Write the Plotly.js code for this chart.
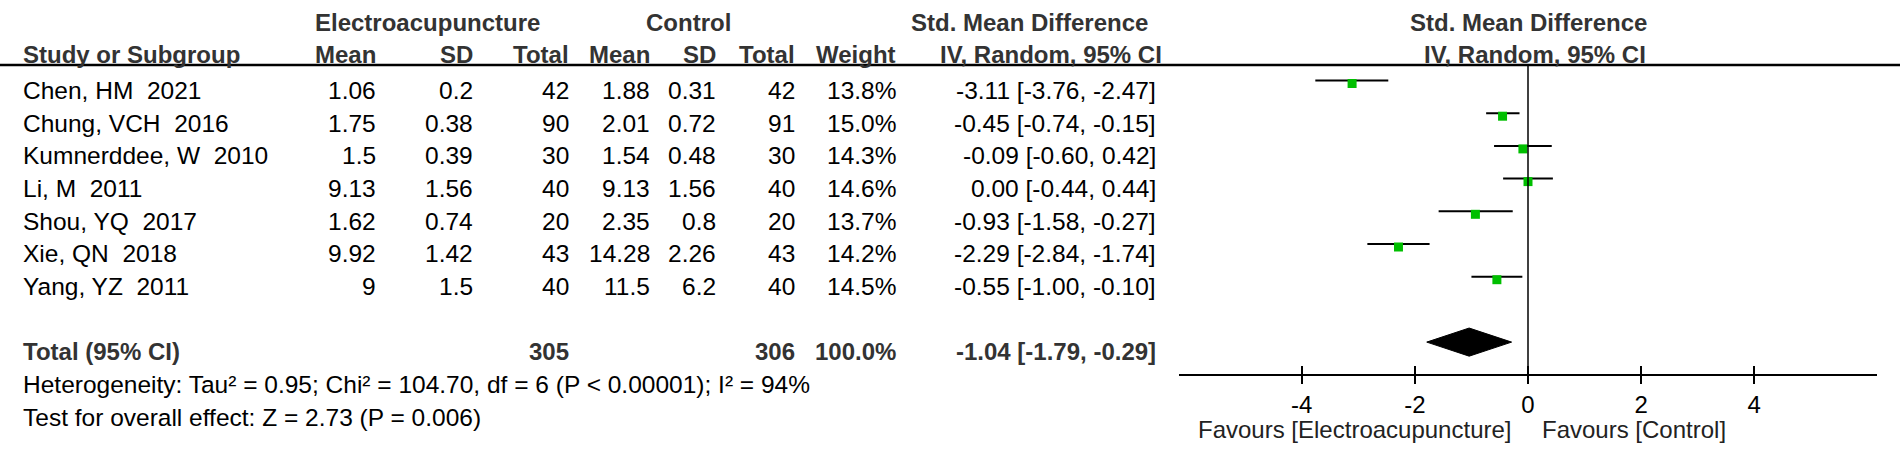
<!DOCTYPE html>
<html>
<head>
<meta charset="utf-8">
<script src="https://cdn.plot.ly/plotly-3.0.1.min.js"></script>
<style>
  html, body { margin: 0; padding: 0; background: #ffffff; }
  #chart { width: 1900px; height: 456px; }
</style>
</head>
<body>
<div id="chart"></div>
<script>
// ---------------- data ----------------
const studies = ["Chen, HM\u00a0 2021", "Chung, VCH\u00a0 2016", "Kumnerddee, W\u00a0 2010", "Li, M\u00a0 2011",
                 "Shou, YQ\u00a0 2017", "Xie, QN\u00a0 2018", "Yang, YZ\u00a0 2011"];
const eaMean  = [1.06, 1.75, 1.5, 9.13, 1.62, 9.92, 9];
const eaSD    = [0.2, 0.38, 0.39, 1.56, 0.74, 1.42, 1.5];
const eaTotal = [42, 90, 30, 40, 20, 43, 40];
const ctMean  = [1.88, 2.01, 1.54, 9.13, 2.35, 14.28, 11.5];
const ctSD    = [0.31, 0.72, 0.48, 1.56, 0.8, 2.26, 6.2];
const ctTotal = [42, 91, 30, 40, 20, 43, 40];
const weights = [13.8, 15.0, 14.3, 14.6, 13.7, 14.2, 14.5];
const smd     = [-3.11, -0.45, -0.09, 0.00, -0.93, -2.29, -0.55];
const ciLow   = [-3.76, -0.74, -0.60, -0.44, -1.58, -2.84, -1.00];
const ciHigh  = [-2.47, -0.15, 0.42, 0.44, -0.27, -1.74, -0.10];

const totalLabel = "Total (95% CI)";
const totalEA = 305, totalCT = 306, totalWeight = 100.0;
const totalSMD = -1.04, totalLow = -1.79, totalHigh = -0.29;

const heterogeneityText = "Heterogeneity: Tau\u00b2 = 0.95; Chi\u00b2 = 104.70, df = 6 (P < 0.00001); I\u00b2 = 94%";
const overallText = "Test for overall effect: Z = 2.73 (P = 0.006)";
const groupHeaders = ["Electroacupuncture", "Control", "Std. Mean Difference", "Std. Mean Difference"];
const colHeaders = ["Study or Subgroup", "Mean", "SD", "Total", "Mean", "SD", "Total", "Weight", "IV, Random, 95% CI", "IV, Random, 95% CI"];
const tickValues = [-4, -2, 0, 2, 4];
const favoursLeft = "Favours [Electroacupuncture]";
const favoursRight = "Favours [Control]";

// ---------------- layout constants ----------------
const W = 1900, H = 456;
const FONT = '"Liberation Sans", Arial, sans-serif';
const FS = 24.5, FSB = 24;
const TXT = "#000000", HEAD = "#333333";
const ROW0 = 80.5, ROWH = 32.7, TEXT_OFF = 9.8;
const PLOT_TOP = 65, PLOT_BOTTOM = 374, PLOT_LEFT = 1179, PLOT_RIGHT = 1877;
const MARKER_DROP = 3;
const XR = 6.17;
const TOTAL_ROW = 8;

const px = x => x / W;
const py = y => 1 - y / H;
const rowY = i => ROW0 + i * ROWH + TEXT_OFF;

function txt(text, x, y, anchor, size, color) {
  return { text: text, x: px(x), y: py(y), xref: "paper", yref: "paper",
           xanchor: anchor, yanchor: "middle", showarrow: false,
           font: { family: FONT, size: size || FS, color: color || TXT } };
}

const ann = [];
// group headers
ann.push(txt("<b>" + groupHeaders[0] + "</b>", 427, 22, "center", FSB, HEAD));
ann.push(txt("<b>" + groupHeaders[1] + "</b>", 688, 22, "center", FSB, HEAD));
ann.push(txt("<b>" + groupHeaders[2] + "</b>", 1029, 22, "center", FSB, HEAD));
ann.push(txt("<b>" + groupHeaders[3] + "</b>", 1528, 22, "center", FSB, HEAD));
// column headers
const colRight = [378, 474.5, 570.5, 652, 718, 797, 898];
ann.push(txt("<b>" + colHeaders[0] + "</b>", 21, 55, "left", FSB, HEAD));
for (let c = 0; c < 7; c++) ann.push(txt("<b>" + colHeaders[c + 1] + "</b>", colRight[c], 55, "right", FSB, HEAD));
ann.push(txt("<b>" + colHeaders[8] + "</b>", 1051, 55, "center", FSB, HEAD));
ann.push(txt("<b>" + colHeaders[9] + "</b>", 1535, 55, "center", FSB, HEAD));

const ciText = (m, l, h) => m.toFixed(2) + " [" + l.toFixed(2) + ", " + h.toFixed(2) + "]";
for (let i = 0; i < studies.length; i++) {
  const y = rowY(i);
  ann.push(txt(studies[i], 21, y, "left"));
  const vals = [eaMean[i], eaSD[i], eaTotal[i], ctMean[i], ctSD[i], ctTotal[i], weights[i].toFixed(1) + "%"];
  for (let c = 0; c < 7; c++) ann.push(txt(String(vals[c]), colRight[c], y, "right"));
  ann.push(txt(ciText(smd[i], ciLow[i], ciHigh[i]), 1158, y, "right"));
}
// total row
const ty = rowY(TOTAL_ROW);
ann.push(txt("<b>" + totalLabel + "</b>", 21, ty, "left", FSB, HEAD));
ann.push(txt("<b>" + totalEA + "</b>", colRight[2], ty, "right", FSB, HEAD));
ann.push(txt("<b>" + totalCT + "</b>", colRight[5], ty, "right", FSB, HEAD));
ann.push(txt("<b>" + totalWeight.toFixed(1) + "%</b>", colRight[6], ty, "right", FSB, HEAD));
ann.push(txt("<b>" + ciText(totalSMD, totalLow, totalHigh) + "</b>", 1158, ty, "right", FSB, HEAD));
ann.push(txt(heterogeneityText, 21, rowY(TOTAL_ROW + 1), "left"));
ann.push(txt(overallText, 21, rowY(TOTAL_ROW + 2), "left"));
// favours labels
ann.push({ text: favoursLeft, x: 0, xref: "x", xshift: -14, y: py(429), yref: "paper", xanchor: "right", yanchor: "middle",
           showarrow: false, font: { family: FONT, size: 24, color: "#222222" } });
ann.push({ text: favoursRight, x: 0, xref: "x", xshift: 12, y: py(429), yref: "paper", xanchor: "left", yanchor: "middle",
           showarrow: false, font: { family: FONT, size: 24, color: "#222222" } });

// ---------------- traces ----------------
const rows = studies.map((_, i) => i);
const ciTrace = {
  type: "scatter", mode: "markers", x: smd, y: rows, xaxis: "x", yaxis: "y",
  marker: { symbol: "square", size: 9, color: "rgba(0,0,0,0)", line: { width: 0 } },
  error_x: { type: "data", symmetric: false,
             array: smd.map((m, i) => ciHigh[i] - m),
             arrayminus: smd.map((m, i) => m - ciLow[i]),
             width: 0, thickness: 2, color: "#000000" },
  hoverinfo: "skip", cliponaxis: false
};
const pointTrace = {
  type: "scatter", mode: "markers", x: smd, y: rows, xaxis: "x", yaxis: "y2",
  marker: { symbol: "square", size: 9, color: "#00bf00", line: { width: 0 } },
  hoverinfo: "skip", cliponaxis: false
};
const DH = 0.43;
const diamond = {
  type: "scatter", mode: "lines", fill: "toself", fillcolor: "#000000",
  x: [totalLow, totalSMD, totalHigh, totalSMD, totalLow],
  y: [TOTAL_ROW, TOTAL_ROW - DH, TOTAL_ROW, TOTAL_ROW + DH, TOTAL_ROW],
  line: { color: "#000000", width: 1 }, xaxis: "x", yaxis: "y", hoverinfo: "skip"
};
const tickHelper = { type: "scatter", x: [0], y: [0], xaxis: "x2", yaxis: "y", mode: "markers",
                     marker: { opacity: 0, size: 1 }, hoverinfo: "skip" };

const yRange = [(PLOT_BOTTOM - ROW0) / ROWH, (PLOT_TOP - ROW0) / ROWH];

const layout = {
  width: W, height: H,
  margin: { l: 0, r: 0, t: 0, b: 0, pad: 0 },
  paper_bgcolor: "#ffffff", plot_bgcolor: "rgba(0,0,0,0)",
  showlegend: false,
  font: { family: FONT, size: FS, color: TXT },
  xaxis: {
    domain: [px(PLOT_LEFT), px(PLOT_RIGHT)], range: [-XR, XR], anchor: "y",
    tickmode: "array", tickvals: tickValues, ticktext: tickValues.map(String),
    ticks: "outside", ticklen: 8, tickwidth: 2, tickcolor: "#000000",
    showline: true, linecolor: "#000000", linewidth: 2,
    showgrid: false, zeroline: false,
    tickfont: { family: FONT, size: 24, color: "#000000" }, fixedrange: true
  },
  xaxis2: {
    overlaying: "x", anchor: "y", side: "bottom", range: [-XR, XR],
    tickmode: "array", tickvals: tickValues,
    ticks: "inside", ticklen: 8, tickwidth: 2, tickcolor: "#000000",
    showticklabels: false, showline: false, showgrid: false, zeroline: false, fixedrange: true
  },
  yaxis: {
    domain: [py(PLOT_BOTTOM), py(PLOT_TOP)], range: yRange, anchor: "x",
    showticklabels: false, ticks: "", showgrid: false, zeroline: false, showline: false, fixedrange: true
  },
  yaxis2: {
    domain: [py(PLOT_BOTTOM + MARKER_DROP), py(PLOT_TOP + MARKER_DROP)], range: yRange, anchor: "x",
    visible: false, showticklabels: false, ticks: "", showgrid: false, zeroline: false, showline: false, fixedrange: true
  },
  shapes: [
    { type: "line", xref: "paper", yref: "paper", x0: 0, x1: 1, y0: py(PLOT_TOP), y1: py(PLOT_TOP),
      line: { color: "#000000", width: 2.5 } },
    { type: "line", xref: "x", yref: "paper", x0: 0, x1: 0, y0: py(PLOT_BOTTOM), y1: py(PLOT_TOP),
      line: { color: "#000000", width: 1.5 } }
  ],
  annotations: ann
};

Plotly.newPlot("chart", [diamond, ciTrace, pointTrace, tickHelper], layout, { staticPlot: true, displayModeBar: false });
</script>
</body>
</html>
